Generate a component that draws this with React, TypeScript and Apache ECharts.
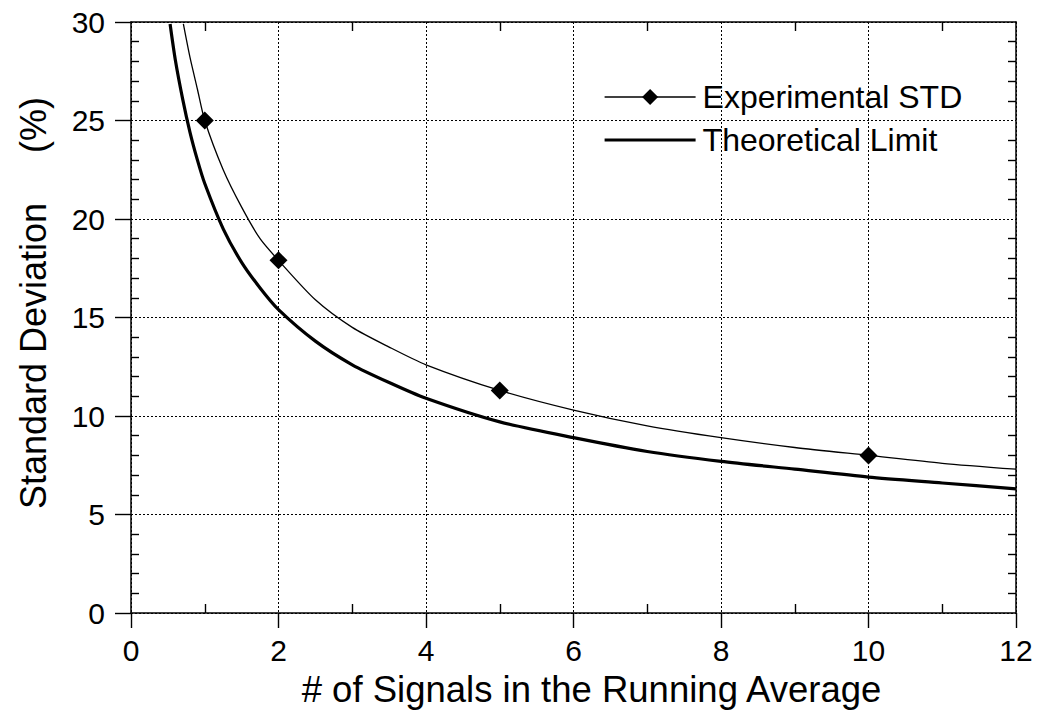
import React, { useEffect, useRef } from "react";
import * as echarts from "echarts";

// ---- data ----
// Theoretical limit curve (thick line)
const theoryX = [0.53, 0.6, 0.7, 0.8, 0.9, 1, 1.25, 1.5, 1.75, 2, 2.5, 3, 3.5, 4, 5, 6, 7, 8, 9, 10, 11, 12];
const theoryY = [29.9, 28.1, 26.1, 24.4, 23.0, 21.8, 19.5, 17.8, 16.5, 15.4, 13.8, 12.6, 11.7, 10.9, 9.7, 8.9, 8.2, 7.7, 7.3, 6.9, 6.6, 6.3];

// Experimental fit curve (thin line)
const expFitX = [0.71, 0.8, 0.9, 1.25, 1.5, 1.75, 2.5, 3, 3.5, 4, 6, 7, 8, 9, 11, 12];
const expFitY = [29.9, 28.2, 26.6, 22.5, 20.6, 19.0, 15.9, 14.5, 13.5, 12.6, 10.3, 9.5, 8.9, 8.4, 7.6, 7.3];

// Measured experimental STD (diamonds)
const measuredX = [1, 2, 5, 10];
const measuredY = [25.0, 17.9, 11.3, 8.0];

const seriesNames = ["Experimental STD", "Theoretical Limit"];
const xTitle = "# of Signals in the Running Average";
const yTitle = "Standard Deviation     (%)";

const FONT = "'Liberation Sans', Arial, Helvetica, sans-serif";

export default function App() {
  const ref = useRef<HTMLDivElement>(null);

  useEffect(() => {
    if (!ref.current) return;
    const chart = echarts.init(ref.current, null, { renderer: "svg" });

    const theoryData = theoryX.map((x, i) => [x, theoryY[i]]);
    const expItems: any[] = [
      ...expFitX.map((x, i) => ({ value: [x, expFitY[i]], symbol: "none" })),
      ...measuredX.map((x, i) => ({ value: [x, measuredY[i]], symbol: "diamond" })),
    ].sort((a, b) => a.value[0] - b.value[0]);

    const black = "#000";
    const axisLine = { show: true, onZero: false, lineStyle: { color: black, width: 1.5 } };
    const noLine = { show: false, onZero: false };
    const dotted = { show: true, lineStyle: { color: black, width: 1, type: [2, 2] } };
    const tickStyle = { color: black, width: 1.4 };

    const xBase = { type: "value", min: 0, max: 12, interval: 2 };
    const yBase = { type: "value", min: 0, max: 30, interval: 5 };

    chart.setOption({
      animation: false,
      backgroundColor: "#fff",
      textStyle: { fontFamily: FONT },
      grid: { left: 131, right: 21, top: 22, bottom: 98, containLabel: false },
      legend: {
        orient: "vertical",
        left: 598,
        top: 76,
        itemWidth: 91,
        itemHeight: 20,
        itemGap: 11,
        data: [
          { name: seriesNames[0], lineStyle: { width: 1.3, color: black } },
          {
            name: seriesNames[1],
            lineStyle: { width: 3.2, color: black },
            itemStyle: { color: "rgba(0,0,0,0)", borderWidth: 0 },
          },
        ],
        textStyle: { fontSize: 32, color: black, fontFamily: FONT, padding: [0, 0, 0, 2] },
      },
      graphic: [
        {
          type: "text",
          x: 33,
          y: 303,
          rotation: Math.PI / 2,
          style: {
            text: yTitle,
            fontSize: 36,
            fontFamily: FONT,
            fill: black,
            align: "center",
            verticalAlign: "middle",
          },
        },
      ],
      xAxis: [
        {
          ...xBase,
          position: "bottom",
          axisLine,
          axisTick: { show: true, inside: false, length: 15, lineStyle: tickStyle },
          minorTick: { show: false },
          splitLine: dotted,
          axisLabel: { show: true, fontSize: 30, color: black, fontFamily: FONT, margin: 22 },
          name: xTitle,
          nameLocation: "middle",
          nameGap: 58,
          nameTextStyle: { fontSize: 36.5, color: black, fontFamily: FONT, padding: [0, 0, 0, 36] },
        },
        {
          ...xBase,
          position: "bottom",
          axisLine: noLine,
          axisTick: { show: true, inside: true, length: 0.01, lineStyle: tickStyle },
          minorTick: { show: true, splitNumber: 2, length: 9, lineStyle: tickStyle },
          splitLine: { show: false },
          axisLabel: { show: false },
        },
        {
          ...xBase,
          position: "top",
          axisLine,
          axisTick: { show: true, inside: true, length: 0.01, lineStyle: tickStyle },
          minorTick: { show: true, splitNumber: 2, length: 9, lineStyle: tickStyle },
          splitLine: { show: false },
          axisLabel: { show: false },
        },
      ],
      yAxis: [
        {
          ...yBase,
          position: "left",
          axisLine,
          axisTick: { show: true, inside: false, length: 16, lineStyle: tickStyle },
          minorTick: { show: false },
          splitLine: dotted,
          axisLabel: { show: true, fontSize: 30, color: black, fontFamily: FONT, margin: 26 },
        },
        {
          ...yBase,
          position: "left",
          axisLine: noLine,
          axisTick: { show: true, inside: true, length: 0.01, lineStyle: tickStyle },
          minorTick: { show: true, splitNumber: 5, length: 8, lineStyle: tickStyle },
          splitLine: { show: false },
          axisLabel: { show: false },
        },
        {
          ...yBase,
          position: "right",
          axisLine,
          axisTick: { show: true, inside: true, length: 0.01, lineStyle: tickStyle },
          minorTick: { show: true, splitNumber: 5, length: 8, lineStyle: tickStyle },
          splitLine: { show: false },
          axisLabel: { show: false },
        },
      ],
      series: [
        {
          name: seriesNames[0],
          type: "line",
          xAxisIndex: 0,
          yAxisIndex: 0,
          data: expItems,
          smooth: 0.25,
          symbol: "diamond",
          symbolSize: 18,
          showAllSymbol: true,
          lineStyle: { color: black, width: 1.3 },
          itemStyle: { color: black },
          z: 3,
        },
        {
          name: seriesNames[1],
          type: "line",
          xAxisIndex: 0,
          yAxisIndex: 0,
          data: theoryData,
          smooth: 0.25,
          symbol: "none",
          lineStyle: { color: black, width: 3.2 },
          itemStyle: { color: black },
          z: 2,
        },
      ],
    });

    return () => chart.dispose();
  }, []);

  return (
    <div
      ref={ref}
      style={{ position: "absolute", left: 0, top: 0, width: 1037, height: 713, background: "#fff" }}
    />
  );
}
